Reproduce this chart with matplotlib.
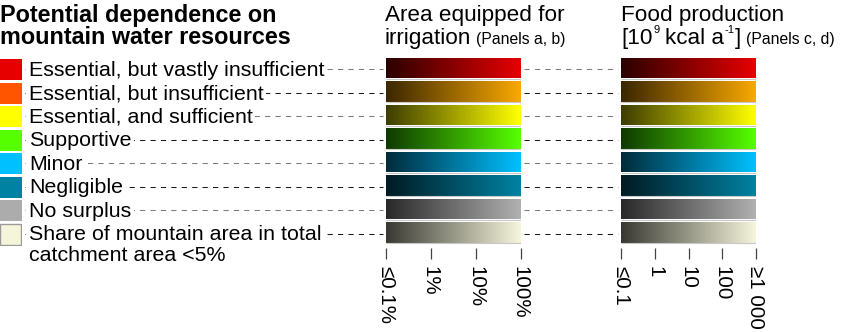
import numpy as np
import matplotlib
matplotlib.use("Agg")
import matplotlib.pyplot as plt
import matplotlib.transforms as mtransforms
from matplotlib.colors import LinearSegmentedColormap
from matplotlib.lines import Line2D
from matplotlib.ticker import NullLocator

# legend categories and their colours
categories = [
    "Essential, but vastly insufficient",
    "Essential, but insufficient",
    "Essential, and sufficient",
    "Supportive",
    "Minor",
    "Negligible",
    "No surplus",
    "Share of mountain area in total\ncatchment area <5%",
]
swatch_colors = ["#e60000", "#ff5500", "#ffff00", "#55ff00",
                 "#00c0ff", "#0082a2", "#acacac", "#f5f5dc"]
bar_dark = ["#2a0000", "#3a2600", "#3c3c00", "#0e3800",
            "#002a3a", "#001a22", "#282828", "#383832"]
bar_bright = ["#e60000", "#f8a800", "#ffff00", "#55ff00",
              "#00c0ff", "#0082a2", "#b0b0b0", "#f5f5dc"]
leader_colors = ["#7a7a7a", "#1a1a1a"] * 4

irrigation_ticks = [0.1, 1, 10, 100]
irrigation_labels = ["≤0.1%", "1%", "10%", "100%"]
food_ticks = [0.1, 1, 10, 100, 1000]
food_labels = ["≤0.1", "1", "10", "100", "≥1 000"]

plt.rcParams['font.family'] = ['Liberation Sans', 'DejaVu Sans']

W, H = 842, 332
fig = plt.figure(figsize=(W / 100, H / 100), dpi=100)


def px_axes(x0, y0, w, h):
    return fig.add_axes([x0 / W, 1 - (y0 + h) / H, w / W, h / H])


def fx(x):
    return x / W


def fy(y):
    return 1 - y / H


n = len(categories)
rows_top = 57.7
pitch = 23.5
ax_sw = px_axes(0, rows_top, 21.7, pitch * n)
ax_irr = px_axes(385.5, rows_top, 135, pitch * n)
ax_food = px_axes(621, rows_top, 135, pitch * n)

# swatches
for i, c in enumerate(swatch_colors):
    last = i == n - 1
    ax_sw.bar(0.5, 0.89, bottom=i + 0.06, width=0.96 if last else 1,
              color=c, edgecolor="#9a9a9a" if last else c,
              linewidth=1 if last else 0)
ax_sw.set_xlim(0, 1)
ax_sw.set_ylim(n, 0)
ax_sw.axis("off")

# gradient bars
for ax, ticks, labels in [(ax_irr, irrigation_ticks, irrigation_labels),
                          (ax_food, food_ticks, food_labels)]:
    for s in ax.spines.values():
        s.set_visible(False)
    ax.spines["bottom"].set_position(("outward", 1.5))
    lo, hi = ticks[0], ticks[-1]
    xs = np.geomspace(lo, hi, 257)
    mid = np.log10(np.sqrt(xs[:-1] * xs[1:]))
    for i in range(n):
        cmap = LinearSegmentedColormap.from_list(f"c{i}", [bar_dark[i], bar_bright[i]])
        ax.pcolormesh(xs, [i, i + 0.885], mid[np.newaxis, :], cmap=cmap,
                      vmin=np.log10(lo), vmax=np.log10(hi), shading="flat")
        ax.hlines(i + 0.9, lo, hi, color="#c8c8c8", linewidth=0.8)
    ax.set_xscale("log")
    ax.set_xlim(lo, hi)
    ax.set_ylim(n, 0)
    ax.set_yticks([])
    ax.set_xticks(ticks)
    ax.set_xticklabels(labels)
    ax.xaxis.set_minor_locator(NullLocator())
    ax.tick_params(axis="x", length=8, width=0.9, color="#444444", pad=5,
                   labelrotation=-90, labelsize=14.8)

# title
fig.text(fx(0.5), fy(22), "Potential dependence on", fontsize=16.8,
         fontweight="bold", va="baseline")
fig.text(fx(0.5), fy(43.5), "mountain water resources", fontsize=16.8,
         fontweight="bold", va="baseline")

# legend labels
for i, lab in enumerate(categories):
    base = rows_top + (i + 0.5) * pitch + 6.3
    for k, line in enumerate(lab.split("\n")):
        fig.text(fx(29), fy(base + 21 * k), line, fontsize=15.4, va="baseline",
                 zorder=5,
                 bbox=dict(boxstyle="square,pad=0.12", fc="white", ec="none"))

# dashed leader lines
trans = mtransforms.blended_transform_factory(fig.transFigure, ax_sw.transData)
for i in range(n):
    for x0, x1 in [(25, 383), (524, 618)]:
        fig.add_artist(Line2D([fx(x0), fx(x1)], [i + 0.5, i + 0.5],
                              transform=trans, color=leader_colors[i],
                              linewidth=0.75, linestyle=(0, (5, 5)), zorder=1))

# panel headers
fig.text(fx(385), fy(20.7), "Area equipped for", fontsize=16.2, va="baseline")
fig.text(fx(621), fy(20.7), "Food production", fontsize=16.2, va="baseline")

renderer = fig.canvas.get_renderer()


def text_run(x, y, pieces):
    # pieces: (text, fontsize, raise in px, gap before in px)
    for s, size, rise, gap in pieces:
        x += gap
        t = fig.text(fx(x), fy(y - rise), s, fontsize=size, va="baseline")
        x = t.get_window_extent(renderer).x1


text_run(385, 44, [("irrigation", 16.2, 0, 0), ("(Panels a, b)", 11.3, 0, 5)])
text_run(621, 44, [("[10", 16.2, 0, 0), ("9", 8, 11, 1),
                   ("kcal a", 16.2, 0, 5), ("-1", 8, 11, 0.5),
                   ("]", 16.2, 0, 1), ("(Panels c, d)", 11.3, 0, 5)])

fig.savefig("out.png", dpi=100)
